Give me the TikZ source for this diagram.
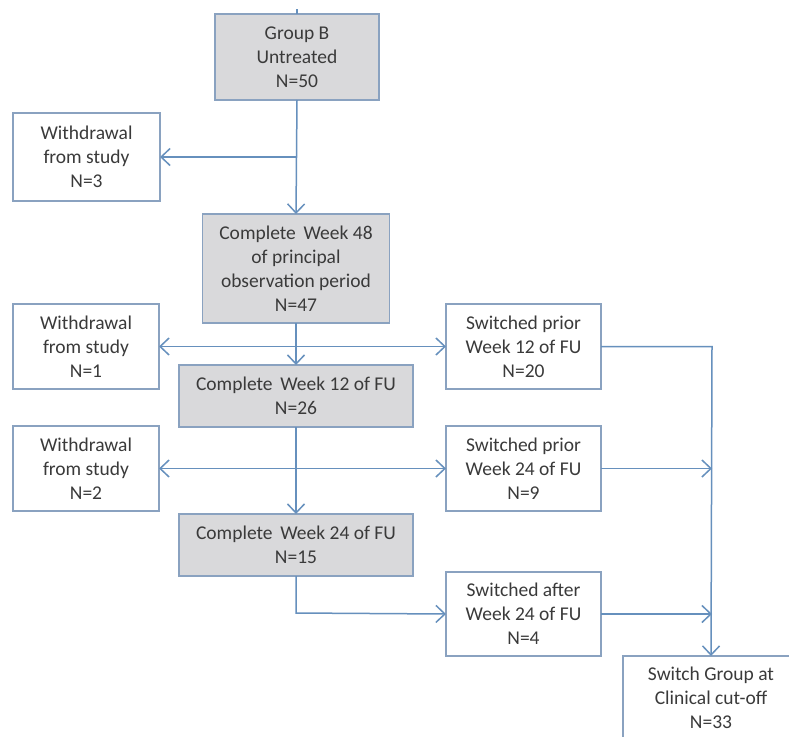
\documentclass[tikz,border=0pt]{standalone}
\usepackage{fontspec}
\setmainfont{Carlito}
\usepackage{tikz}
\usetikzlibrary{arrows.meta}

\definecolor{boxline}{HTML}{8AA2C0}
\definecolor{boxfill}{HTML}{D9D9DB}
\definecolor{flowline}{HTML}{6690BD}
\definecolor{txt}{HTML}{3A3A3A}

\begin{document}
\begin{tikzpicture}[
				x=1pt, y=-1pt,
				box/.style={
					rectangle,
					draw=boxline,
					line width=1.5pt,
					inner sep=0pt,
					outer sep=0pt,
					align=center,
					text=txt,
					font=\fontsize{19.5}{24}\selectfont
				},
				graybox/.style={box, fill=boxfill},
				whitebox/.style={box, fill=white},
				flow/.style={
					draw=flowline,
					line width=1.5pt
				},
				arr/.style={
					flow,
					-{Straight Barb[length=9pt,width=17pt,line width=1.5pt]}
				}
				]
				
				% Frame
				\clip (0,0) rectangle (789,736);
				\fill[white] (0,0) rectangle (789,736);
				
				% Main column
				\node[graybox, minimum width=164, minimum height=86] (grpB) at (297,57)
				{Group B\\ Untreated\\ N=50};
				
				\node[graybox, minimum width=187, minimum height=109] (wk48) at (296,268.5)
				{Complete\, Week 48\\ of principal\\ observation period\\ N=47};
				
				\node[graybox, minimum width=234, minimum height=62] (wk12) at (296,396)
				{Complete\, Week 12 of FU\\ N=26};
				
				\node[graybox, minimum width=234, minimum height=62] (wk24) at (296,545)
				{Complete\, Week 24 of FU\\ N=15};
				
				% Withdrawals
				\node[whitebox, minimum width=147, minimum height=88] (wd3) at (86.5,157)
				{Withdrawal\\ from study\\ N=3};
				
				\node[whitebox, minimum width=146, minimum height=85] (wd1) at (86,346.5)
				{Withdrawal\\ from study\\ N=1};
				
				\node[whitebox, minimum width=146, minimum height=85] (wd2) at (86,468.5)
				{Withdrawal\\ from study\\ N=2};
				
				% Switches
				\node[whitebox, minimum width=155, minimum height=85] (sw12) at (523.5,346.5)
				{Switched prior\\ Week 12 of FU\\ N=20};
				
				\node[whitebox, minimum width=155, minimum height=85] (sw24) at (523.5,468.5)
				{Switched prior\\ Week 24 of FU\\ N=9};
				
				\node[whitebox, minimum width=155, minimum height=84] (swA) at (523.5,614)
				{Switched after\\ Week 24 of FU\\ N=4};
				
				\node[whitebox, minimum width=176, minimum height=84] (swG) at (711,698)
				{Switch Group at\\ Clinical cut-off\\ N=33};
				
				% Helper points
				\coordinate (top) at (297,9);
				\coordinate (bendA) at (296,613);
				\coordinate (rail12) at (712,346.5);
				\coordinate (rail24) at (712,468.5);
				\coordinate (railA) at (712,614);
				
				% Main flow
				\draw[flow] (top) -- (grpB.north);
				\draw[arr] (grpB.south) -- (wk48.north);
				\draw[arr] (grpB.south |- wd3.east) -- (wd3.east);
				\draw[arr] (wk48.south) -- (wk12.north);
				\draw[arr] (wk12.south) -- (wk24.north);
				
				% Side branches
				\draw[arr] (wk48.south |- wd1.east) -- (wd1.east);
				\draw[arr] (wk48.south |- sw12.west) -- (sw12.west);
				\draw[arr] (wk12.south |- wd2.east) -- (wd2.east);
				\draw[arr] (wk12.south |- sw24.west) -- (sw24.west);
				\draw[arr] (wk24.south) -- (bendA) -- (swA.west);
				
				% Right rail
				\draw[arr] (sw12.east) -- (rail12) -- (swG.north);
				\draw[arr] (sw24.east) -- (rail24);
				\draw[arr] (swA.east) -- (railA);
				
			\end{tikzpicture}
\end{document}
